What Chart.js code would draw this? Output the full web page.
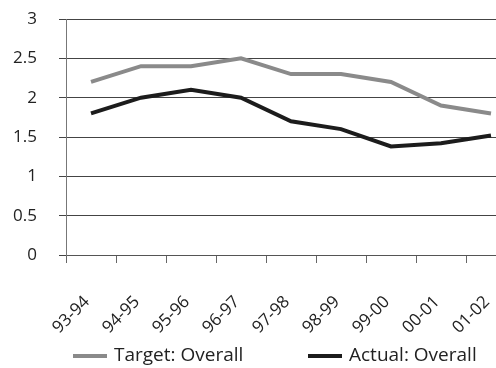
<!DOCTYPE html>
<html>
<head>
<meta charset="utf-8">
<script src="https://cdn.jsdelivr.net/npm/chart.js@4/dist/chart.umd.min.js"></script>
<style>
  html, body { margin: 0; padding: 0; background: #fff; overflow: hidden; }
  #wrap { width: 496px; height: 368px; overflow: hidden; }
  canvas { display: block; }
</style>
</head>
<body>
<div id="wrap"><canvas id="c" width="520" height="368"></canvas></div>
<script>
// School years on the category axis
const years = ['93-94', '94-95', '95-96', '96-97', '97-98', '98-99', '99-00', '00-01', '01-02'];
// Overall target and actual values per year
const targetOverall = [2.2, 2.4, 2.4, 2.5, 2.3, 2.3, 2.2, 1.9, 1.8];
const actualOverall = [1.8, 2.0, 2.1, 2.0, 1.7, 1.6, 1.38, 1.42, 1.52];
// Value axis range and step
const yMin = 0, yMax = 3, yStep = 0.5;

const FONT = '"Open Sans", "DejaVu Sans", sans-serif';
const TEXT = '#222';

// Legend row under the axis: a short line sample per dataset followed by its label
const legendRow = {
  id: 'legendRow',
  afterDraw(chart, args, opts) {
    const ctx = chart.ctx;
    ctx.save();
    ctx.font = `${opts.fontSize}px ${FONT}`;
    ctx.textBaseline = 'middle';
    ctx.textAlign = 'left';
    chart.data.datasets.forEach((ds, i) => {
      const x = opts.starts[i];
      ctx.strokeStyle = ds.borderColor;
      ctx.lineWidth = ds.borderWidth;
      ctx.beginPath();
      ctx.moveTo(x, opts.y);
      ctx.lineTo(x + opts.sample, opts.y);
      ctx.stroke();
      ctx.fillStyle = TEXT;
      ctx.fillText(ds.label, x + opts.sample + opts.gap, opts.y);
    });
    ctx.restore();
  }
};

new Chart(document.getElementById('c'), {
  type: 'line',
  data: {
    labels: years,
    datasets: [
      {
        label: 'Target: Overall',
        data: targetOverall,
        borderColor: '#8a8a8a',
        backgroundColor: '#8a8a8a',
        borderWidth: 4,
        pointRadius: 0,
        tension: 0,
        fill: false
      },
      {
        label: 'Actual: Overall',
        data: actualOverall,
        borderColor: '#1c1c1c',
        backgroundColor: '#1c1c1c',
        borderWidth: 4,
        pointRadius: 0,
        tension: 0,
        fill: false
      }
    ]
  },
  plugins: [legendRow],
  options: {
    responsive: false,
    animation: false,
    layout: { padding: { left: 10, right: 4, top: 19, bottom: 30 } },
    plugins: {
      tooltip: { enabled: false },
      legend: { display: false },
      legendRow: { starts: [73, 308], y: 356, sample: 34, gap: 7, fontSize: 19 }
    },
    scales: {
      x: {
        offset: true,
        afterFit(scale) {
          scale.height = 83;
          scale.paddingLeft = 0;
          scale.paddingRight = 0;
        },
        grid: {
          offset: true,
          drawOnChartArea: false,
          tickLength: 8,
          color: '#666',
          lineWidth: 1
        },
        border: { display: true, color: '#555', width: 1 },
        ticks: {
          font: { family: FONT, size: 17 },
          color: TEXT,
          minRotation: 45,
          maxRotation: 45,
          padding: 29,
          labelOffset: -4
        }
      },
      y: {
        min: yMin,
        max: yMax,
        afterFit(scale) {
          scale.width = 56;
          scale.paddingTop = 0;
          scale.paddingBottom = 0;
        },
        grid: {
          color: '#444',
          lineWidth: 1,
          tickLength: 7
        },
        border: { display: true, color: '#777', width: 1 },
        ticks: {
          stepSize: yStep,
          font: { family: FONT, size: 17 },
          color: TEXT,
          padding: 22,
          callback: (v) => String(Number(v.toFixed(1)))
        }
      }
    }
  }
});
</script>
</body>
</html>
